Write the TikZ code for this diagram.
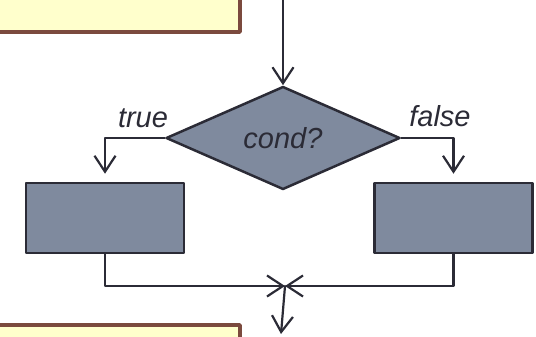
\documentclass[tikz,border=0pt]{standalone}
\usepackage{fontspec}
\setmainfont{Liberation Sans}
\usetikzlibrary{arrows.meta,shapes.geometric,positioning}

\definecolor{slate}{HTML}{7F8A9E}
\definecolor{ink}{HTML}{2B2B36}
\definecolor{note}{HTML}{FFFFCC}
\definecolor{noteline}{HTML}{7B4A3E}

\begin{document}
\begin{tikzpicture}[x=1pt, y=-1pt, >={Straight Barb[length=16pt,width=21pt]},
		line cap=round, line join=round,
		flow/.style={draw=ink, line width=2.2pt},
		block/.style={draw=ink, line width=2.5pt, fill=slate, minimum width=158pt,
			minimum height=70pt, inner sep=0pt},
		test/.style={diamond, draw=ink, line width=2.5pt, fill=slate, minimum width=234pt,
			minimum height=103pt, inner sep=0pt},
		note/.style={draw=noteline, line width=3.5pt, fill=note},
		lbl/.style={font=\fontsize{29}{32}\selectfont\itshape, text=ink}]
	
	\useasboundingbox (0,0) rectangle (536,337);
	\clip (0,0) rectangle (536,337);
	
	% statements before and after the branch
	\draw[note] (-20,-20) rectangle (240,32);
	\draw[note] (-20,325) rectangle (240,380);
	
	% condition and the two branches
	\node[test, lbl] (cond) at (283,138) {cond?};
	\node[block] (yes) at (105,218) {};
	\node[block] (no) at (453.5,218) {};
	
	\node[lbl, anchor=base] (truelbl) at (143,128) {true};
	\node[lbl, anchor=base] (falselbl) at (440,127) {false};
	
	% flow lines
	\coordinate (entry) at (283,-2);
	\coordinate (join) at (285,286);
	\coordinate (exit) at (281,334);
	
	\draw[flow,->] (entry) -- (cond.north);
	\draw[flow,->] (cond.west) -| ([yshift=8pt]yes.north);
	\draw[flow,->] (cond.east) -| ([yshift=8pt]no.north);
	\draw[flow,->] (yes.south) |- (join);
	\draw[flow,->] (no.south) |- (join);
	\draw[flow,->] (join) -- (exit);
	
\end{tikzpicture}
\end{document}
